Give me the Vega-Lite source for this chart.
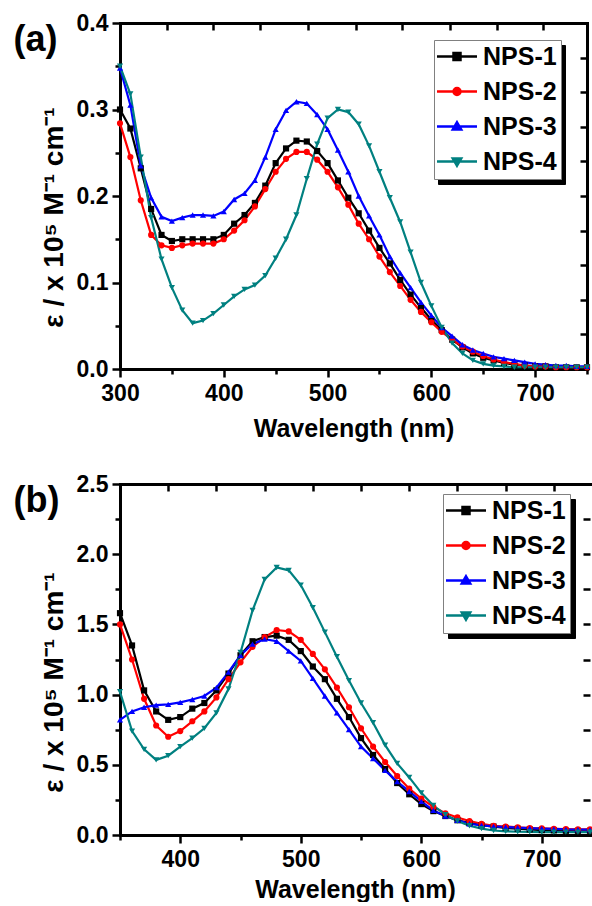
{
"$schema": "https://vega.github.io/schema/vega-lite/v6.json",
"padding": {"left": 13, "top": 12, "right": 0, "bottom": 0},
"background": "white",
"spacing": 115,
"bounds": "flush",
"resolve": {"scale": {"x": "independent", "y": "independent", "color": "independent", "stroke": "independent"}},
"datasets": {
"a": [
{"s":"NPS-1","w":300,"e":0.300},{"s":"NPS-1","w":310,"e":0.278},{"s":"NPS-1","w":320,"e":0.232},{"s":"NPS-1","w":330,"e":0.185},{"s":"NPS-1","w":340,"e":0.155},{"s":"NPS-1","w":350,"e":0.148},{"s":"NPS-1","w":360,"e":0.150},{"s":"NPS-1","w":370,"e":0.150},{"s":"NPS-1","w":380,"e":0.150},{"s":"NPS-1","w":390,"e":0.150},{"s":"NPS-1","w":400,"e":0.155},{"s":"NPS-1","w":410,"e":0.168},{"s":"NPS-1","w":420,"e":0.178},{"s":"NPS-1","w":430,"e":0.192},{"s":"NPS-1","w":440,"e":0.212},{"s":"NPS-1","w":450,"e":0.238},{"s":"NPS-1","w":460,"e":0.255},{"s":"NPS-1","w":470,"e":0.264},{"s":"NPS-1","w":480,"e":0.263},{"s":"NPS-1","w":490,"e":0.252},{"s":"NPS-1","w":500,"e":0.238},{"s":"NPS-1","w":510,"e":0.218},{"s":"NPS-1","w":520,"e":0.198},{"s":"NPS-1","w":530,"e":0.180},{"s":"NPS-1","w":540,"e":0.160},{"s":"NPS-1","w":550,"e":0.140},{"s":"NPS-1","w":560,"e":0.122},{"s":"NPS-1","w":570,"e":0.103},{"s":"NPS-1","w":580,"e":0.086},{"s":"NPS-1","w":590,"e":0.071},{"s":"NPS-1","w":600,"e":0.057},{"s":"NPS-1","w":610,"e":0.045},{"s":"NPS-1","w":620,"e":0.034},{"s":"NPS-1","w":630,"e":0.025},{"s":"NPS-1","w":640,"e":0.018},{"s":"NPS-1","w":650,"e":0.013},{"s":"NPS-1","w":660,"e":0.010},{"s":"NPS-1","w":670,"e":0.007},{"s":"NPS-1","w":680,"e":0.005},{"s":"NPS-1","w":690,"e":0.004},{"s":"NPS-1","w":700,"e":0.003},{"s":"NPS-1","w":710,"e":0.003},{"s":"NPS-1","w":720,"e":0.002},{"s":"NPS-1","w":730,"e":0.002},{"s":"NPS-1","w":740,"e":0.002},{"s":"NPS-1","w":750,"e":0.002},
{"s":"NPS-2","w":300,"e":0.284},{"s":"NPS-2","w":310,"e":0.245},{"s":"NPS-2","w":320,"e":0.195},{"s":"NPS-2","w":330,"e":0.155},{"s":"NPS-2","w":340,"e":0.143},{"s":"NPS-2","w":350,"e":0.140},{"s":"NPS-2","w":360,"e":0.143},{"s":"NPS-2","w":370,"e":0.145},{"s":"NPS-2","w":380,"e":0.145},{"s":"NPS-2","w":390,"e":0.145},{"s":"NPS-2","w":400,"e":0.150},{"s":"NPS-2","w":410,"e":0.160},{"s":"NPS-2","w":420,"e":0.172},{"s":"NPS-2","w":430,"e":0.188},{"s":"NPS-2","w":440,"e":0.208},{"s":"NPS-2","w":450,"e":0.228},{"s":"NPS-2","w":460,"e":0.243},{"s":"NPS-2","w":470,"e":0.251},{"s":"NPS-2","w":480,"e":0.251},{"s":"NPS-2","w":490,"e":0.242},{"s":"NPS-2","w":500,"e":0.228},{"s":"NPS-2","w":510,"e":0.210},{"s":"NPS-2","w":520,"e":0.190},{"s":"NPS-2","w":530,"e":0.168},{"s":"NPS-2","w":540,"e":0.150},{"s":"NPS-2","w":550,"e":0.130},{"s":"NPS-2","w":560,"e":0.112},{"s":"NPS-2","w":570,"e":0.096},{"s":"NPS-2","w":580,"e":0.080},{"s":"NPS-2","w":590,"e":0.066},{"s":"NPS-2","w":600,"e":0.054},{"s":"NPS-2","w":610,"e":0.043},{"s":"NPS-2","w":620,"e":0.034},{"s":"NPS-2","w":630,"e":0.026},{"s":"NPS-2","w":640,"e":0.020},{"s":"NPS-2","w":650,"e":0.015},{"s":"NPS-2","w":660,"e":0.011},{"s":"NPS-2","w":670,"e":0.008},{"s":"NPS-2","w":680,"e":0.006},{"s":"NPS-2","w":690,"e":0.004},{"s":"NPS-2","w":700,"e":0.003},{"s":"NPS-2","w":710,"e":0.003},{"s":"NPS-2","w":720,"e":0.002},{"s":"NPS-2","w":730,"e":0.002},{"s":"NPS-2","w":740,"e":0.002},{"s":"NPS-2","w":750,"e":0.002},
{"s":"NPS-3","w":300,"e":0.348},{"s":"NPS-3","w":310,"e":0.305},{"s":"NPS-3","w":320,"e":0.235},{"s":"NPS-3","w":330,"e":0.198},{"s":"NPS-3","w":340,"e":0.176},{"s":"NPS-3","w":350,"e":0.171},{"s":"NPS-3","w":360,"e":0.175},{"s":"NPS-3","w":370,"e":0.178},{"s":"NPS-3","w":380,"e":0.178},{"s":"NPS-3","w":390,"e":0.177},{"s":"NPS-3","w":400,"e":0.182},{"s":"NPS-3","w":410,"e":0.196},{"s":"NPS-3","w":420,"e":0.203},{"s":"NPS-3","w":430,"e":0.218},{"s":"NPS-3","w":440,"e":0.245},{"s":"NPS-3","w":450,"e":0.277},{"s":"NPS-3","w":460,"e":0.299},{"s":"NPS-3","w":470,"e":0.309},{"s":"NPS-3","w":480,"e":0.307},{"s":"NPS-3","w":490,"e":0.294},{"s":"NPS-3","w":500,"e":0.277},{"s":"NPS-3","w":510,"e":0.253},{"s":"NPS-3","w":520,"e":0.228},{"s":"NPS-3","w":530,"e":0.200},{"s":"NPS-3","w":540,"e":0.177},{"s":"NPS-3","w":550,"e":0.155},{"s":"NPS-3","w":560,"e":0.130},{"s":"NPS-3","w":570,"e":0.111},{"s":"NPS-3","w":580,"e":0.094},{"s":"NPS-3","w":590,"e":0.077},{"s":"NPS-3","w":600,"e":0.062},{"s":"NPS-3","w":610,"e":0.048},{"s":"NPS-3","w":620,"e":0.038},{"s":"NPS-3","w":630,"e":0.028},{"s":"NPS-3","w":640,"e":0.022},{"s":"NPS-3","w":650,"e":0.018},{"s":"NPS-3","w":660,"e":0.014},{"s":"NPS-3","w":670,"e":0.012},{"s":"NPS-3","w":680,"e":0.010},{"s":"NPS-3","w":690,"e":0.008},{"s":"NPS-3","w":700,"e":0.006},{"s":"NPS-3","w":710,"e":0.005},{"s":"NPS-3","w":720,"e":0.004},{"s":"NPS-3","w":730,"e":0.004},{"s":"NPS-3","w":740,"e":0.003},{"s":"NPS-3","w":750,"e":0.003},
{"s":"NPS-4","w":300,"e":0.350},{"s":"NPS-4","w":310,"e":0.318},{"s":"NPS-4","w":320,"e":0.245},{"s":"NPS-4","w":330,"e":0.175},{"s":"NPS-4","w":340,"e":0.127},{"s":"NPS-4","w":350,"e":0.094},{"s":"NPS-4","w":360,"e":0.068},{"s":"NPS-4","w":370,"e":0.053},{"s":"NPS-4","w":380,"e":0.056},{"s":"NPS-4","w":390,"e":0.064},{"s":"NPS-4","w":400,"e":0.074},{"s":"NPS-4","w":410,"e":0.084},{"s":"NPS-4","w":420,"e":0.092},{"s":"NPS-4","w":430,"e":0.097},{"s":"NPS-4","w":440,"e":0.108},{"s":"NPS-4","w":450,"e":0.128},{"s":"NPS-4","w":460,"e":0.150},{"s":"NPS-4","w":470,"e":0.178},{"s":"NPS-4","w":480,"e":0.220},{"s":"NPS-4","w":490,"e":0.260},{"s":"NPS-4","w":500,"e":0.290},{"s":"NPS-4","w":510,"e":0.300},{"s":"NPS-4","w":520,"e":0.297},{"s":"NPS-4","w":530,"e":0.283},{"s":"NPS-4","w":540,"e":0.258},{"s":"NPS-4","w":550,"e":0.228},{"s":"NPS-4","w":560,"e":0.198},{"s":"NPS-4","w":570,"e":0.170},{"s":"NPS-4","w":580,"e":0.135},{"s":"NPS-4","w":590,"e":0.100},{"s":"NPS-4","w":600,"e":0.073},{"s":"NPS-4","w":610,"e":0.048},{"s":"NPS-4","w":620,"e":0.030},{"s":"NPS-4","w":630,"e":0.018},{"s":"NPS-4","w":640,"e":0.010},{"s":"NPS-4","w":650,"e":0.006},{"s":"NPS-4","w":660,"e":0.004},{"s":"NPS-4","w":670,"e":0.003},{"s":"NPS-4","w":680,"e":0.002},{"s":"NPS-4","w":690,"e":0.002},{"s":"NPS-4","w":700,"e":0.002},{"s":"NPS-4","w":710,"e":0.002},{"s":"NPS-4","w":720,"e":0.002},{"s":"NPS-4","w":730,"e":0.002},{"s":"NPS-4","w":740,"e":0.002},{"s":"NPS-4","w":750,"e":0.002}
],
"b": [
{"s":"NPS-1","w":350,"e":1.58},{"s":"NPS-1","w":360,"e":1.35},{"s":"NPS-1","w":370,"e":1.03},{"s":"NPS-1","w":380,"e":0.88},{"s":"NPS-1","w":390,"e":0.82},{"s":"NPS-1","w":400,"e":0.84},{"s":"NPS-1","w":410,"e":0.90},{"s":"NPS-1","w":420,"e":0.94},{"s":"NPS-1","w":430,"e":1.03},{"s":"NPS-1","w":440,"e":1.15},{"s":"NPS-1","w":450,"e":1.28},{"s":"NPS-1","w":460,"e":1.38},{"s":"NPS-1","w":470,"e":1.41},{"s":"NPS-1","w":480,"e":1.42},{"s":"NPS-1","w":490,"e":1.39},{"s":"NPS-1","w":500,"e":1.31},{"s":"NPS-1","w":510,"e":1.20},{"s":"NPS-1","w":520,"e":1.11},{"s":"NPS-1","w":530,"e":0.97},{"s":"NPS-1","w":540,"e":0.84},{"s":"NPS-1","w":550,"e":0.69},{"s":"NPS-1","w":560,"e":0.57},{"s":"NPS-1","w":570,"e":0.47},{"s":"NPS-1","w":580,"e":0.37},{"s":"NPS-1","w":590,"e":0.29},{"s":"NPS-1","w":600,"e":0.22},{"s":"NPS-1","w":610,"e":0.17},{"s":"NPS-1","w":620,"e":0.135},{"s":"NPS-1","w":630,"e":0.105},{"s":"NPS-1","w":640,"e":0.085},{"s":"NPS-1","w":650,"e":0.07},{"s":"NPS-1","w":660,"e":0.06},{"s":"NPS-1","w":670,"e":0.05},{"s":"NPS-1","w":680,"e":0.045},{"s":"NPS-1","w":690,"e":0.04},{"s":"NPS-1","w":700,"e":0.035},{"s":"NPS-1","w":710,"e":0.033},{"s":"NPS-1","w":720,"e":0.03},{"s":"NPS-1","w":730,"e":0.03},{"s":"NPS-1","w":740,"e":0.03},
{"s":"NPS-2","w":350,"e":1.50},{"s":"NPS-2","w":360,"e":1.25},{"s":"NPS-2","w":370,"e":0.97},{"s":"NPS-2","w":380,"e":0.78},{"s":"NPS-2","w":390,"e":0.70},{"s":"NPS-2","w":400,"e":0.74},{"s":"NPS-2","w":410,"e":0.81},{"s":"NPS-2","w":420,"e":0.88},{"s":"NPS-2","w":430,"e":0.98},{"s":"NPS-2","w":440,"e":1.11},{"s":"NPS-2","w":450,"e":1.23},{"s":"NPS-2","w":460,"e":1.34},{"s":"NPS-2","w":470,"e":1.41},{"s":"NPS-2","w":480,"e":1.46},{"s":"NPS-2","w":490,"e":1.45},{"s":"NPS-2","w":500,"e":1.39},{"s":"NPS-2","w":510,"e":1.29},{"s":"NPS-2","w":520,"e":1.18},{"s":"NPS-2","w":530,"e":1.05},{"s":"NPS-2","w":540,"e":0.91},{"s":"NPS-2","w":550,"e":0.76},{"s":"NPS-2","w":560,"e":0.63},{"s":"NPS-2","w":570,"e":0.52},{"s":"NPS-2","w":580,"e":0.42},{"s":"NPS-2","w":590,"e":0.33},{"s":"NPS-2","w":600,"e":0.26},{"s":"NPS-2","w":610,"e":0.20},{"s":"NPS-2","w":620,"e":0.155},{"s":"NPS-2","w":630,"e":0.125},{"s":"NPS-2","w":640,"e":0.10},{"s":"NPS-2","w":650,"e":0.08},{"s":"NPS-2","w":660,"e":0.066},{"s":"NPS-2","w":670,"e":0.06},{"s":"NPS-2","w":680,"e":0.055},{"s":"NPS-2","w":690,"e":0.05},{"s":"NPS-2","w":700,"e":0.047},{"s":"NPS-2","w":710,"e":0.044},{"s":"NPS-2","w":720,"e":0.042},{"s":"NPS-2","w":730,"e":0.04},{"s":"NPS-2","w":740,"e":0.04},
{"s":"NPS-3","w":350,"e":0.82},{"s":"NPS-3","w":360,"e":0.88},{"s":"NPS-3","w":370,"e":0.91},{"s":"NPS-3","w":380,"e":0.925},{"s":"NPS-3","w":390,"e":0.93},{"s":"NPS-3","w":400,"e":0.945},{"s":"NPS-3","w":410,"e":0.965},{"s":"NPS-3","w":420,"e":0.99},{"s":"NPS-3","w":430,"e":1.05},{"s":"NPS-3","w":440,"e":1.16},{"s":"NPS-3","w":450,"e":1.28},{"s":"NPS-3","w":460,"e":1.36},{"s":"NPS-3","w":470,"e":1.395},{"s":"NPS-3","w":480,"e":1.38},{"s":"NPS-3","w":490,"e":1.31},{"s":"NPS-3","w":500,"e":1.24},{"s":"NPS-3","w":510,"e":1.115},{"s":"NPS-3","w":520,"e":0.99},{"s":"NPS-3","w":530,"e":0.87},{"s":"NPS-3","w":540,"e":0.75},{"s":"NPS-3","w":550,"e":0.63},{"s":"NPS-3","w":560,"e":0.545},{"s":"NPS-3","w":570,"e":0.46},{"s":"NPS-3","w":580,"e":0.38},{"s":"NPS-3","w":590,"e":0.31},{"s":"NPS-3","w":600,"e":0.24},{"s":"NPS-3","w":610,"e":0.175},{"s":"NPS-3","w":620,"e":0.135},{"s":"NPS-3","w":630,"e":0.105},{"s":"NPS-3","w":640,"e":0.08},{"s":"NPS-3","w":650,"e":0.068},{"s":"NPS-3","w":660,"e":0.062},{"s":"NPS-3","w":670,"e":0.057},{"s":"NPS-3","w":680,"e":0.052},{"s":"NPS-3","w":690,"e":0.049},{"s":"NPS-3","w":700,"e":0.046},{"s":"NPS-3","w":710,"e":0.043},{"s":"NPS-3","w":720,"e":0.04},{"s":"NPS-3","w":730,"e":0.039},{"s":"NPS-3","w":740,"e":0.038},
{"s":"NPS-4","w":350,"e":1.02},{"s":"NPS-4","w":360,"e":0.74},{"s":"NPS-4","w":370,"e":0.61},{"s":"NPS-4","w":380,"e":0.535},{"s":"NPS-4","w":390,"e":0.565},{"s":"NPS-4","w":400,"e":0.63},{"s":"NPS-4","w":410,"e":0.69},{"s":"NPS-4","w":420,"e":0.76},{"s":"NPS-4","w":430,"e":0.87},{"s":"NPS-4","w":440,"e":1.04},{"s":"NPS-4","w":450,"e":1.30},{"s":"NPS-4","w":460,"e":1.60},{"s":"NPS-4","w":470,"e":1.82},{"s":"NPS-4","w":480,"e":1.905},{"s":"NPS-4","w":490,"e":1.885},{"s":"NPS-4","w":500,"e":1.78},{"s":"NPS-4","w":510,"e":1.62},{"s":"NPS-4","w":520,"e":1.445},{"s":"NPS-4","w":530,"e":1.27},{"s":"NPS-4","w":540,"e":1.10},{"s":"NPS-4","w":550,"e":0.94},{"s":"NPS-4","w":560,"e":0.80},{"s":"NPS-4","w":570,"e":0.64},{"s":"NPS-4","w":580,"e":0.51},{"s":"NPS-4","w":590,"e":0.41},{"s":"NPS-4","w":600,"e":0.30},{"s":"NPS-4","w":610,"e":0.21},{"s":"NPS-4","w":620,"e":0.145},{"s":"NPS-4","w":630,"e":0.10},{"s":"NPS-4","w":640,"e":0.066},{"s":"NPS-4","w":650,"e":0.045},{"s":"NPS-4","w":660,"e":0.032},{"s":"NPS-4","w":670,"e":0.026},{"s":"NPS-4","w":680,"e":0.023},{"s":"NPS-4","w":690,"e":0.022},{"s":"NPS-4","w":700,"e":0.021},{"s":"NPS-4","w":710,"e":0.02},{"s":"NPS-4","w":720,"e":0.02},{"s":"NPS-4","w":730,"e":0.02},{"s":"NPS-4","w":740,"e":0.02}
]
},
"vconcat": [
{
"width": 467, "height": 346,
"data": {"name": "a"},
"resolve": {"axis": {"x": "independent", "y": "independent"}},
"layer": [
{"mark": {"type": "line", "strokeWidth": 2.2},
 "encoding": {
  "x": {"field": "w", "type": "quantitative", "scale": {"domain": [300, 750], "nice": false}, "axis": {"orient": "bottom", "values": [300, 400, 500, 600, 700], "title": "Wavelength (nm)", "tickSize": 8, "labelPadding": 5, "titlePadding": 11}},
  "y": {"field": "e", "type": "quantitative", "scale": {"domain": [0, 0.4], "nice": false}, "axis": {"orient": "left", "values": [0, 0.1, 0.2, 0.3, 0.4], "format": ".1f", "title": "ε / x 10⁵ M⁻¹ cm⁻¹", "titleFontSize": 28, "tickSize": 8, "labelPadding": 4, "titlePadding": 8, "titleY": 194}},
  "stroke": {"field": "s", "type": "nominal", "scale": {"domain": ["NPS-1", "NPS-2", "NPS-3", "NPS-4"], "range": ["#000000", "#ff0000", "#0000ff", "#008080"]},
   "legend": {"orient": "top-right", "offset": 22, "title": null, "fillColor": "black", "strokeColor": "black",
    "encoding": {"symbols": {"shape": {"value": {"expr": "datum.value==='NPS-1'?'M-1.35,0H2.65M0.3,-0.35H1V0.35H0.3Z':datum.value==='NPS-2'?'M-1.35,0H2.65M0.3,0A0.35,0.35,0,1,1,1,0A0.35,0.35,0,1,1,0.3,0Z':datum.value==='NPS-3'?'M-1.35,0H2.65M0.65,-0.42L1.07,0.3H0.23Z':'M-1.35,0H2.65M0.65,0.42L1.07,-0.3H0.23Z'"}}, "opacity": {"value": 0}}, "labels": {"opacity": {"value": 0}}}}}
 }},
{"mark": {"type": "point", "filled": true, "size": 38, "opacity": 1},
 "encoding": {
  "x": {"field": "w", "type": "quantitative", "scale": {"domain": [300, 750], "nice": false}, "axis": {"orient": "top", "values": [345, 390, 435, 481, 527, 572, 618, 663, 708], "labels": false, "domain": false, "offset": -7, "tickSize": 7, "title": null}},
  "y": {"field": "e", "type": "quantitative", "scale": {"domain": [0, 0.4], "nice": false}, "axis": {"orient": "right", "values": [0.04, 0.08, 0.12, 0.16, 0.2, 0.24, 0.28, 0.32, 0.36], "labels": false, "domain": false, "offset": -7, "tickSize": 7, "title": null}},
  "color": {"field": "s", "type": "nominal", "scale": {"domain": ["NPS-1", "NPS-2", "NPS-3", "NPS-4"], "range": ["#000000", "#ff0000", "#0000ff", "#008080"]},
   "legend": {"orient": "none", "legendX": 314, "legendY": 17, "title": null,
    "encoding": {"symbols": {
     "shape": {"value": {"expr": "datum.value==='NPS-1'?'M-1.35,0H2.65M0.3,-0.35H1V0.35H0.3Z':datum.value==='NPS-2'?'M-1.35,0H2.65M0.3,0A0.35,0.35,0,1,1,1,0A0.35,0.35,0,1,1,0.3,0Z':datum.value==='NPS-3'?'M-1.35,0H2.65M0.65,-0.42L1.07,0.3H0.23Z':'M-1.35,0H2.65M0.65,0.42L1.07,-0.3H0.23Z'"}},
     "fill": {"value": {"expr": "datum.value==='NPS-1'?'#000000':datum.value==='NPS-2'?'#ff0000':datum.value==='NPS-3'?'#0000ff':'#008080'"}},
     "stroke": {"value": {"expr": "datum.value==='NPS-1'?'#000000':datum.value==='NPS-2'?'#ff0000':datum.value==='NPS-3'?'#0000ff':'#008080'"}},
     "strokeWidth": {"value": 2.5}, "opacity": {"value": 1}}}}},
  "shape": {"condition": [{"test": "datum.s==='NPS-1'", "value": "square"}, {"test": "datum.s==='NPS-2'", "value": "circle"}, {"test": "datum.s==='NPS-3'", "value": "triangle-up"}], "value": "triangle-down"}
 }},
{"mark": {"type": "point", "opacity": 0},
 "encoding": {
  "x": {"field": "w", "type": "quantitative", "scale": {"domain": [300, 750], "nice": false}, "axis": {"orient": "bottom", "values": [350, 450, 550, 650, 750], "labels": false, "domain": false, "tickSize": 5, "title": null}},
  "y": {"field": "e", "type": "quantitative", "scale": {"domain": [0, 0.4], "nice": false}, "axis": {"orient": "left", "values": [0.05, 0.15, 0.25, 0.35], "labels": false, "domain": false, "tickSize": 5, "title": "(a)", "titleAngle": 0, "titleX": -107, "titleY": 27, "titleAlign": "left", "titleBaseline": "alphabetic", "titleFontSize": 36}}
 }},
{"mark": {"type": "point", "opacity": 0},
 "encoding": {
  "x": {"field": "w", "type": "quantitative", "scale": {"domain": [300, 750], "nice": false}, "axis": {"orient": "top", "labels": false, "ticks": false, "domain": true, "title": null}},
  "y": {"field": "e", "type": "quantitative", "scale": {"domain": [0, 0.4], "nice": false}, "axis": {"orient": "right", "labels": false, "ticks": false, "domain": true, "title": null}}
 }}
]
},
{
"width": 470, "height": 351,
"data": {"name": "b"},
"resolve": {"axis": {"x": "independent", "y": "independent"}},
"layer": [
{"mark": {"type": "line", "strokeWidth": 2.2},
 "encoding": {
  "x": {"field": "w", "type": "quantitative", "scale": {"domain": [350, 740], "nice": false}, "axis": {"orient": "bottom", "values": [400, 500, 600, 700], "title": "Wavelength (nm)", "tickSize": 8, "labelPadding": 5, "titlePadding": 6}},
  "y": {"field": "e", "type": "quantitative", "scale": {"domain": [0, 2.5], "nice": false}, "axis": {"orient": "left", "values": [0, 0.5, 1, 1.5, 2, 2.5], "format": ".1f", "title": "ε / x 10⁵ M⁻¹ cm⁻¹", "titleFontSize": 28, "tickSize": 8, "labelPadding": 4, "titlePadding": 8, "titleY": 198}},
  "stroke": {"field": "s", "type": "nominal", "scale": {"domain": ["NPS-1", "NPS-2", "NPS-3", "NPS-4"], "range": ["#000000", "#ff0000", "#0000ff", "#008080"]},
   "legend": {"orient": "top-right", "offset": 15, "title": null, "fillColor": "black", "strokeColor": "black",
    "encoding": {"symbols": {"shape": {"value": {"expr": "datum.value==='NPS-1'?'M-1.35,0H2.65M0.3,-0.35H1V0.35H0.3Z':datum.value==='NPS-2'?'M-1.35,0H2.65M0.3,0A0.35,0.35,0,1,1,1,0A0.35,0.35,0,1,1,0.3,0Z':datum.value==='NPS-3'?'M-1.35,0H2.65M0.65,-0.42L1.07,0.3H0.23Z':'M-1.35,0H2.65M0.65,0.42L1.07,-0.3H0.23Z'"}}, "opacity": {"value": 0}}, "labels": {"opacity": {"value": 0}}}}}
 }},
{"mark": {"type": "point", "filled": true, "size": 38, "opacity": 1},
 "encoding": {
  "x": {"field": "w", "type": "quantitative", "scale": {"domain": [350, 740], "nice": false}, "axis": {"orient": "top", "values": [390, 430, 470, 510, 550, 590, 630, 670, 710], "labels": false, "domain": false, "offset": -7, "tickSize": 7, "title": null}},
  "y": {"field": "e", "type": "quantitative", "scale": {"domain": [0, 2.5], "nice": false}, "axis": {"orient": "right", "values": [0.25, 0.5, 0.75, 1, 1.25, 1.5, 1.75, 2, 2.25], "labels": false, "domain": false, "offset": -7, "tickSize": 7, "title": null}},
  "color": {"field": "s", "type": "nominal", "scale": {"domain": ["NPS-1", "NPS-2", "NPS-3", "NPS-4"], "range": ["#000000", "#ff0000", "#0000ff", "#008080"]},
   "legend": {"orient": "none", "legendX": 323, "legendY": 10, "title": null,
    "encoding": {"symbols": {
     "shape": {"value": {"expr": "datum.value==='NPS-1'?'M-1.35,0H2.65M0.3,-0.35H1V0.35H0.3Z':datum.value==='NPS-2'?'M-1.35,0H2.65M0.3,0A0.35,0.35,0,1,1,1,0A0.35,0.35,0,1,1,0.3,0Z':datum.value==='NPS-3'?'M-1.35,0H2.65M0.65,-0.42L1.07,0.3H0.23Z':'M-1.35,0H2.65M0.65,0.42L1.07,-0.3H0.23Z'"}},
     "fill": {"value": {"expr": "datum.value==='NPS-1'?'#000000':datum.value==='NPS-2'?'#ff0000':datum.value==='NPS-3'?'#0000ff':'#008080'"}},
     "stroke": {"value": {"expr": "datum.value==='NPS-1'?'#000000':datum.value==='NPS-2'?'#ff0000':datum.value==='NPS-3'?'#0000ff':'#008080'"}},
     "strokeWidth": {"value": 2.5}, "opacity": {"value": 1}}}}},
  "shape": {"condition": [{"test": "datum.s==='NPS-1'", "value": "square"}, {"test": "datum.s==='NPS-2'", "value": "circle"}, {"test": "datum.s==='NPS-3'", "value": "triangle-up"}], "value": "triangle-down"}
 }},
{"mark": {"type": "point", "opacity": 0},
 "encoding": {
  "x": {"field": "w", "type": "quantitative", "scale": {"domain": [350, 740], "nice": false}, "axis": {"orient": "bottom", "values": [350, 450, 550, 650], "labels": false, "domain": false, "tickSize": 5, "title": null}},
  "y": {"field": "e", "type": "quantitative", "scale": {"domain": [0, 2.5], "nice": false}, "axis": {"orient": "left", "values": [0.25, 0.75, 1.25, 1.75, 2.25], "labels": false, "domain": false, "tickSize": 5, "title": "(b)", "titleAngle": 0, "titleX": -107, "titleY": 27, "titleAlign": "left", "titleBaseline": "alphabetic", "titleFontSize": 36}}
 }},
{"mark": {"type": "point", "opacity": 0},
 "encoding": {
  "x": {"field": "w", "type": "quantitative", "scale": {"domain": [350, 740], "nice": false}, "axis": {"orient": "top", "labels": false, "ticks": false, "domain": true, "title": null}},
  "y": {"field": "e", "type": "quantitative", "scale": {"domain": [0, 2.5], "nice": false}, "axis": null}
 }}
]
}
],
"config": {
 "font": "Liberation Sans",
 "view": {"stroke": null},
 "axis": {"grid": false, "domainColor": "black", "domainWidth": 3, "domainCap": "square", "tickColor": "black", "tickWidth": 2.5, "labelFont": "Liberation Sans", "labelFontSize": 23, "labelFontWeight": "bold", "labelColor": "black", "titleFont": "Liberation Sans", "titleFontSize": 25, "titleFontWeight": "bold", "titleColor": "black", "labelFlush": false, "labelOverlap": false},
 "legend": {"padding": 4, "rowPadding": 9, "symbolSize": 400, "labelOffset": 20, "labelFont": "Liberation Sans", "labelFontSize": 25, "labelFontWeight": "bold", "labelColor": "black", "strokeColor": "#808080", "fillColor": "white", "symbolStrokeWidth": 2.5, "labelLimit": 300}
}
}
